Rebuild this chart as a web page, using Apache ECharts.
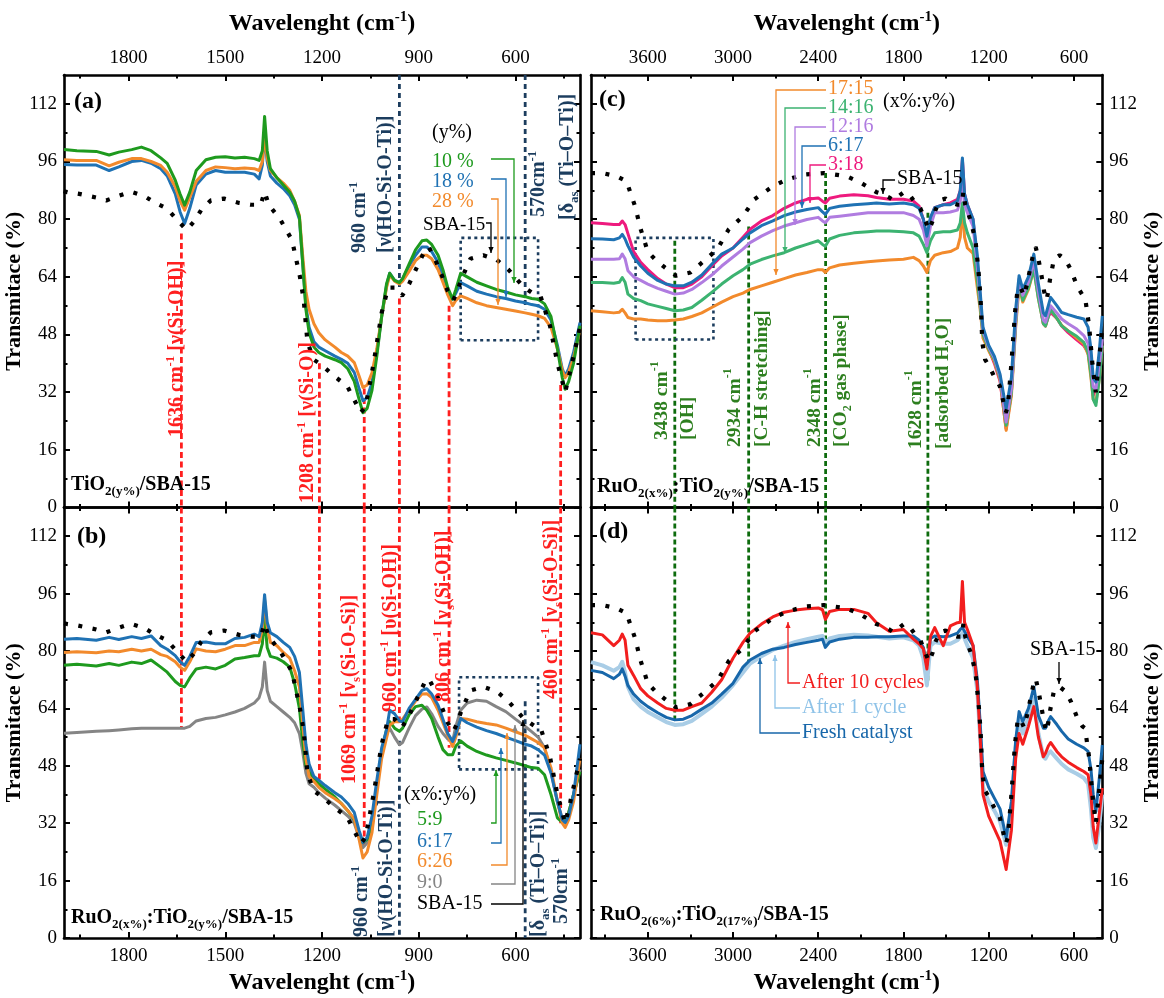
<!DOCTYPE html>
<html><head><meta charset="utf-8">
<script src="https://cdn.jsdelivr.net/npm/echarts@6/dist/echarts.min.js"></script>
<style>html,body{margin:0;padding:0;background:#fff;}#c{width:1164px;height:998px;}</style>
</head><body><div id="c"></div>
<script>
// ---------------- DATA ----------------
const wnLeft = [2000,1960,1900,1860,1830,1790,1760,1730,1700,1680,1655,1640,1626,1610,1590,1560,1530,1500,1470,1440,1410,1395,1385,1378,1370,1360,1340,1320,1300,1285,1270,1260,1250,1240,1225,1210,1190,1160,1140,1120,1100,1085,1073,1060,1045,1030,1015,1000,990,975,960,950,930,910,890,875,860,840,825,810,795,785,770,750,720,690,660,630,600,570,550,530,510,490,470,455,446,435,420,400];
const aGreen10 = [99.3,99.0,98.8,97.8,98.6,99.3,100.0,99.0,97.0,95.5,90.8,87.0,83.9,87.5,93.5,96.5,97.2,97.3,97.0,97.2,96.8,96.3,99.0,108.5,99.0,94.0,91.5,89.5,87.5,85.0,80.6,68.0,55.0,48.5,44.5,43.0,42.0,41.0,40.2,38.5,35.0,30.0,26.3,27.5,32.5,42.0,53.0,62.0,65.0,63.0,62.4,63.5,67.5,71.5,74.0,74.2,73.0,70.0,66.0,61.0,57.8,60.5,65.0,64.0,62.5,61.5,60.5,59.8,59.0,58.5,58.0,57.8,56.5,53.0,44.0,36.0,32.8,35.0,40.0,50.4];
const aBlue18 = [95.2,95.0,95.0,93.5,94.5,96.0,96.3,95.5,94.0,92.0,87.0,82.0,78.8,83.0,89.5,92.5,93.5,93.0,93.0,93.0,92.5,91.2,95.0,103.7,96.0,92.0,90.0,88.5,86.5,84.0,80.0,68.0,56.0,50.0,46.0,44.5,43.5,42.0,41.1,40.0,37.5,33.0,29.6,30.5,34.6,43.0,53.0,61.5,65.0,63.0,62.5,63.5,67.0,70.0,72.3,72.3,71.0,68.0,64.0,60.0,57.8,59.5,62.4,61.5,60.0,59.2,58.5,58.0,57.3,56.8,56.3,56.0,55.0,52.0,45.0,38.5,36.5,38.5,43.0,51.3];
const aOrange28 = [96.5,96.3,96.3,94.8,95.8,96.8,96.8,96.0,94.9,93.0,89.0,85.0,82.5,86.0,90.5,93.5,94.5,94.3,94.0,94.2,94.0,93.5,96.0,103.7,97.0,93.5,91.5,90.0,88.0,85.0,81.0,70.0,60.0,55.0,51.0,48.5,46.5,44.5,43.0,42.0,40.2,36.5,33.3,34.0,37.4,44.0,53.0,61.0,64.5,62.8,62.0,62.8,65.5,68.5,70.0,70.0,69.0,66.0,62.5,59.0,56.0,57.5,58.7,58.0,56.8,56.0,55.5,55.0,54.5,54.0,53.6,53.2,52.5,50.0,44.0,38.0,36.0,37.5,41.5,49.5];
const bGreen59 = [76.0,76.3,75.8,76.5,76.0,76.9,76.5,77.5,75.5,74.1,71.5,70.4,70.0,72.5,75.0,75.5,75.0,76.0,77.8,78.2,78.7,78.7,82.0,89.3,81.0,78.5,78.0,77.0,75.5,71.0,64.0,55.0,48.0,46.4,44.5,43.0,41.5,39.3,37.5,35.5,33.0,29.0,26.6,27.5,32.2,42.0,52.0,58.0,60.3,58.5,57.6,58.5,62.2,64.5,64.9,63.5,61.2,56.0,52.5,51.1,51.1,53.5,54.9,53.5,52.0,51.0,50.2,49.5,48.8,48.0,47.5,47.3,45.5,40.0,33.5,32.2,32.5,35.0,40.0,46.4];
const bBlue617 = [83.3,83.5,83.0,83.8,83.2,84.0,83.5,84.2,81.5,80.5,78.7,77.0,76.0,78.5,82.4,82.5,82.0,82.0,83.5,83.8,84.7,84.0,88.0,95.7,88.0,85.1,84.0,82.4,81.0,78.5,74.0,64.0,54.0,48.5,45.0,44.0,42.5,40.5,39.3,37.5,35.0,30.0,26.6,28.0,34.0,44.0,53.0,58.0,63.5,62.5,60.5,60.3,64.0,66.5,69.0,69.5,68.0,64.9,61.0,57.0,54.8,57.0,61.2,60.0,58.8,57.8,57.0,56.0,55.0,54.0,53.5,52.5,51.0,46.0,38.0,33.0,32.2,34.0,40.0,54.0];
const bOrange626 = [79.6,79.8,79.5,80.0,79.8,80.5,80.0,80.5,79.0,78.5,77.0,75.5,74.6,77.0,80.6,80.0,79.8,80.5,81.5,81.5,82.4,82.4,86.0,94.3,87.0,82.4,81.5,79.6,78.0,74.5,70.0,60.0,50.0,45.0,43.6,42.0,40.5,38.8,37.5,35.5,33.2,27.5,22.3,24.0,29.4,40.0,50.0,55.7,59.4,60.3,60.3,61.0,63.5,66.0,68.0,68.1,67.0,63.5,60.0,56.5,53.4,56.0,61.2,61.0,60.3,59.8,59.4,58.5,57.5,56.5,55.5,54.5,53.0,47.5,38.0,32.0,30.8,33.0,38.0,50.0];
const bGray90 = [57.1,57.3,57.6,57.8,58.0,58.3,58.5,58.5,58.5,58.5,58.5,58.5,58.5,59.0,60.5,61.2,61.5,62.2,63.0,64.0,65.5,67.0,70.0,76.9,69.0,66.0,64.5,63.0,61.5,60.0,57.0,52.0,46.0,43.0,42.0,40.5,39.0,37.0,35.5,34.0,32.0,28.0,25.2,26.5,30.4,42.0,52.0,57.0,58.5,56.0,53.9,54.5,58.5,62.0,63.8,64.4,62.5,59.0,57.0,55.5,54.8,59.0,63.5,65.5,66.3,66.0,64.5,63.1,61.0,59.0,57.5,56.0,53.0,46.4,38.0,33.2,33.0,35.0,40.0,47.0];

const wnRight = [4000,3920,3840,3800,3780,3760,3740,3700,3650,3600,3530,3470,3410,3350,3290,3220,3150,3080,3000,2930,2880,2800,2720,2640,2560,2480,2400,2370,2350,2320,2250,2150,2050,1990,1900,1800,1730,1690,1660,1635,1610,1580,1520,1470,1420,1400,1385,1370,1350,1310,1280,1260,1240,1200,1160,1120,1077,1040,1010,986,960,920,882,850,815,800,780,764,720,686,640,580,530,500,480,464,445,420,400];
const cPink318 = [79.0,78.8,78.5,78.5,79.5,78.5,76.0,71.0,68.0,66.0,63.5,62.0,61.0,61.0,62.0,64.0,67.0,69.8,72.0,75.0,77.2,79.5,81.0,83.0,84.5,85.5,85.9,85.0,84.5,85.8,86.4,86.8,86.5,86.0,85.5,85.5,85.0,83.6,80.0,74.4,80.0,83.2,84.0,84.5,85.5,88.0,96.5,87.0,84.0,79.9,68.0,58.0,48.5,44.0,40.0,35.0,21.8,32.0,52.0,62.4,58.7,62.0,68.0,60.0,51.0,50.4,53.0,54.1,52.5,50.4,48.5,46.5,44.9,43.0,38.0,31.1,33.0,40.0,44.0];
const cBlue617 = [74.6,74.5,74.3,74.8,75.8,74.5,72.6,69.5,67.0,65.0,63.0,62.0,61.5,61.5,62.5,64.5,67.5,70.3,72.0,74.5,76.2,78.2,79.5,81.0,82.0,82.7,83.2,82.0,81.3,83.0,83.6,84.0,84.3,84.5,84.2,84.5,84.0,83.0,80.0,75.3,80.5,83.2,84.0,84.0,85.0,88.0,97.0,87.0,84.0,80.0,70.0,60.0,50.0,45.0,42.0,37.0,27.4,36.0,55.0,64.3,60.6,64.0,70.3,62.0,54.0,53.2,56.0,58.3,56.0,54.1,53.5,52.8,52.3,50.0,44.0,36.0,34.8,44.0,53.2];
const cPurple1216 = [68.9,68.9,68.9,69.0,70.3,69.0,65.7,64.0,63.0,62.0,60.8,60.0,59.2,59.5,60.5,62.4,64.5,67.0,69.5,71.7,73.5,75.3,76.8,78.1,79.0,79.9,80.5,79.5,79.0,80.5,80.8,81.3,81.8,81.8,81.8,81.8,81.0,80.0,77.0,72.6,78.0,81.8,81.8,82.0,82.5,85.0,91.0,84.0,81.8,78.0,67.0,58.0,49.0,44.5,41.5,36.5,23.7,33.0,52.0,63.4,58.9,62.5,68.4,60.0,52.0,51.4,54.0,56.0,54.0,52.3,51.0,49.5,47.7,45.5,40.0,33.5,32.9,40.0,46.7];
const cGreen1416 = [62.4,62.4,62.2,62.5,63.8,62.5,59.2,58.0,57.4,56.5,55.8,55.2,54.6,54.8,55.5,57.5,59.7,62.0,64.3,66.0,67.5,68.8,69.8,70.7,72.0,73.0,74.0,73.0,72.5,74.5,75.5,76.2,76.5,76.7,76.7,76.5,76.2,75.3,73.0,70.7,74.0,76.2,76.5,76.5,77.0,79.0,84.5,79.0,76.2,72.0,63.0,56.0,48.0,44.0,41.0,36.0,22.8,32.0,51.0,62.5,57.5,61.0,66.1,58.0,51.0,50.4,53.0,55.0,52.5,50.4,49.0,47.5,45.8,43.0,37.0,30.0,28.3,36.0,44.9];
const cOrange1715 = [54.6,54.3,54.0,54.2,55.0,54.0,52.7,52.3,52.3,52.0,51.8,51.8,52.0,52.3,53.0,54.0,55.5,57.0,58.5,59.5,60.5,61.5,62.5,63.5,64.5,65.2,66.0,66.0,65.2,66.5,67.3,67.8,68.2,68.4,68.7,68.9,69.4,68.5,67.0,65.2,68.5,70.0,70.7,71.0,72.0,75.0,83.6,75.0,72.0,70.5,61.0,55.0,47.0,43.5,40.5,35.5,21.4,31.0,50.0,61.5,57.0,60.5,66.1,58.0,51.0,50.4,53.5,55.0,52.5,50.5,49.0,47.0,45.4,42.5,36.0,30.0,29.2,36.0,44.9];
const dRed10 = [85.1,84.5,81.5,83.0,84.7,83.0,76.0,73.2,69.5,67.5,65.5,64.0,63.5,63.5,64.5,65.5,68.5,72.0,78.0,82.4,85.0,87.5,89.5,90.8,91.4,91.8,92.0,91.5,88.8,91.0,91.6,91.6,90.5,87.9,85.5,86.0,83.3,82.0,80.6,75.0,84.0,86.5,81.5,87.0,87.9,88.0,99.4,88.0,86.0,81.5,70.0,56.0,40.0,34.0,30.5,27.0,19.1,30.0,50.0,57.0,54.0,59.0,64.5,56.0,50.5,51.5,53.5,54.5,52.0,50.5,49.0,47.5,46.4,45.5,40.0,31.0,26.5,35.0,41.8];
const dLight1 = [76.9,76.0,74.5,75.5,77.0,74.0,70.0,66.5,64.5,63.0,61.5,60.2,59.4,59.6,60.5,62.5,64.5,67.0,70.5,74.0,76.5,78.5,80.3,81.5,82.5,83.3,84.0,84.2,82.0,83.5,84.2,84.5,84.3,84.0,83.5,83.8,83.0,81.5,78.0,70.4,81.5,82.5,82.0,82.0,83.0,84.0,85.0,83.5,81.5,78.0,69.0,56.0,42.0,38.0,35.5,32.5,26.0,35.0,53.0,60.5,57.0,61.5,66.8,57.0,50.5,50.0,51.5,52.0,50.0,48.5,47.0,45.8,44.6,43.0,36.0,28.0,25.1,32.0,40.0];
const dFresh = [74.6,74.0,72.3,73.5,75.0,73.0,70.4,68.0,66.0,64.5,62.8,61.5,60.8,61.0,62.0,63.8,65.5,68.0,71.0,75.5,77.5,79.3,80.5,81.0,81.8,82.4,83.0,83.3,81.0,82.5,83.3,83.8,83.8,84.0,84.0,84.2,84.2,83.0,81.0,76.0,83.5,84.2,84.0,84.2,85.0,86.0,86.5,85.5,84.0,81.5,72.0,60.0,46.4,42.0,39.0,36.0,27.9,38.0,55.0,63.1,60.3,64.0,70.0,62.0,58.5,58.5,60.5,61.7,59.5,57.6,55.5,54.0,53.0,52.0,47.0,40.0,35.3,45.0,53.8];

const sbaWn = [4000,3920,3820,3750,3690,3650,3600,3550,3480,3400,3300,3190,3110,3030,2930,2850,2720,2620,2490,2360,2200,2100,1990,1957,1900,1869,1830,1793,1751,1716,1681,1651,1620,1595,1575,1545,1504,1457,1420,1390,1378,1365,1328,1293,1269,1257,1245,1225,1198,1163,1122,1095,1080,1065,1040,1015,995,975,952,930,904,880,869,850,828,810,793,780,769,740,700,658,622,575,540,522,493,470,446,430,400];
const sbaT = [92.8,92.8,91.9,90.5,83.6,77.2,71.0,68.9,66.6,64.3,65.2,68.9,71.7,77.2,80.8,85.5,89.1,91.0,92.4,92.8,91.9,90.1,87.5,87.1,86.0,85.2,86.5,87.6,86.4,84.5,83.0,80.0,77.0,79.5,82.5,85.2,85.7,84.5,84.0,84.0,87.6,84.0,79.7,74.2,64.3,57.8,45.8,41.0,39.3,36.5,33.7,29.0,26.3,28.0,40.0,54.0,61.0,61.0,58.7,62.0,67.0,71.5,72.3,69.0,64.3,60.0,57.5,60.0,63.1,69.0,70.0,68.7,66.0,61.2,59.0,58.5,50.4,40.0,32.0,38.0,50.0];

// reference (band) lines
const redWn = [1636, 1208, 1069, 960, 806, 460];
const redStartA = [76, 40, 33, 58, 56, 34];
const redEndB = [58.5, 43, 25, 61, 53, 32];
const navyWn = [960, 570];
const navyStartA = [61, 55];
const navyStartB = [55, 66];
const greenWn = [3410, 2890, 2348, 1628];
const greenStartC = [74, 78, 92.8, 81.8];
const greenEndD = [60.8, 77, 83.3, 71.8];
// dotted zoom boxes
const boxAWn = [770, 530], boxAT = [46.4, 74.8];
const boxBWn = [775, 530], boxBT = [47, 72.7];
const boxCWn = [3686, 3138], boxCT = [46.6, 74.8];

// ticks
const xTicksLeft = [1800, 1500, 1200, 900, 600];
const xMinorLeft = [1950, 1650, 1350, 1050, 750, 450];
const xTicksRight = [3600, 3000, 2400, 1800, 1200, 600];
const xMinorRight = [3900, 3300, 2700, 2100, 1500, 900];
const yTicks = [0, 16, 32, 48, 64, 80, 96, 112];
const yMinor = [8, 24, 40, 56, 72, 88, 104];

// ---------------- STYLE ----------------
const FONT = '"Liberation Serif","Times New Roman",serif';
const COL = {
  red:'#ff1f1f', navy:'#1c3d5e', dgreen:'#0d6b0d', tgreen:'#2d7f1f',
  green:'#1e9a1e', blue:'#1f72b4', orange:'#f28a2c', gray:'#858585',
  cgreen:'#3cb371', purple:'#b07ce0', pink:'#ee1a7e',
  dred:'#f21e1e', lblue:'#a9cde6', dblue:'#1767aa'
};
const GRIDS = [
  {left:64, top:75, width:516, height:432.5},
  {left:64, top:507.5, width:516, height:432},
  {left:591, top:75, width:516, height:432.5},
  {left:591, top:507.5, width:516, height:432}
];

function tickAxis(base, pos, vals, len, line, labels, extra) {
  return Object.assign({}, base, {
    position: pos,
    axisLine: {show: line, onZero: false, lineStyle: {color:'#000', width:2.6}},
    axisTick: {show: true, inside: true, length: len, customValues: vals, lineStyle: {color:'#000', width:2}},
    axisLabel: labels ? Object.assign({show:true, customValues: vals, fontFamily: FONT, fontSize: 19, color:'#000',
      formatter: (v) => String(v)}, labels) : {show:false},
    splitLine: {show:false}
  }, extra || {});
}
const xName = (pos) => ({
  name: 'Wavelenght (cm{sup|-1})', nameLocation: 'middle', nameGap: pos === 'top' ? 37 : 31,
  nameTextStyle: {fontFamily: FONT, fontSize: 24, fontWeight: 'bold', color: '#000', lineHeight: 28,
    rich: {sup: {fontFamily: FONT, fontSize: 15, fontWeight: 'bold', color: '#000', lineHeight: 15, verticalAlign: 'top'}}}
});
function makeX(g, min, max, majors, minors, pos) {
  const opp = pos === 'top' ? 'bottom' : 'top';
  const base = {type:'value', gridIndex:g, min, max, inverse:true};
  return [
    tickAxis(base, pos, majors, 6, true, {margin: pos === 'top' ? 7 : 9}, xName(pos)),
    tickAxis(base, pos, minors, 3.5, false, null),
    tickAxis(base, opp, majors, 6, true, null),
    tickAxis(base, opp, minors, 3.5, false, null)
  ];
}
function makeY(g, pos) {
  const opp = pos === 'left' ? 'right' : 'left';
  const base = {type:'value', gridIndex:g, min:0, max:120};
  const nm = {name:'Transmitace (%)', nameLocation:'middle', nameRotate: 90, nameGap: pos === 'left' ? 32 : 35,
    nameTextStyle: {fontFamily: FONT, fontSize: 22, fontWeight: 'bold', color: '#000'}};
  return [
    tickAxis(base, pos, yTicks, 6, true, {margin: 7}, nm),
    tickAxis(base, pos, yMinor, 3.5, false, null),
    tickAxis(base, opp, yTicks, 6, true, null),
    tickAxis(base, opp, yMinor, 3.5, false, null)
  ];
}
const xAxes = [].concat(
  makeX(0, 400, 2000, xTicksLeft, xMinorLeft, 'top'),
  makeX(1, 400, 2000, xTicksLeft, xMinorLeft, 'bottom'),
  makeX(2, 400, 4000, xTicksRight, xMinorRight, 'top'),
  makeX(3, 400, 4000, xTicksRight, xMinorRight, 'bottom')
);
const yAxes = [].concat(makeY(0,'left'), makeY(1,'left'), makeY(2,'right'), makeY(3,'right'));

// ---------------- SERIES ----------------
const S = [];
function curve(g, wn, vals, color, width, z) {
  S.push({type:'line', xAxisIndex: 4*g, yAxisIndex: 4*g, data: wn.map((w, i) => [w, vals[i]]),
    symbol:'none', showSymbol:false, clip:true, silent:true, z: z || 3,
    lineStyle: {color, width: width || 3, join:'round'}, itemStyle:{color}});
}
function dotted(g) {
  S.push({type:'line', xAxisIndex: 4*g, yAxisIndex: 4*g, data: sbaWn.map((w, i) => [w, sbaT[i]]),
    symbol:'none', clip:true, silent:true, z: 4,
    lineStyle: {color:'#000', width: 4.2, type: [4, 10.5], cap:'butt'}});
}
function vline(g, wn, t0, t1, color, dash) {
  S.push({type:'line', xAxisIndex: 4*g, yAxisIndex: 4*g, data: [[wn, t0], [wn, t1]],
    symbol:'none', clip:true, silent:true, z: 2,
    lineStyle: {color, width: 2.8, type: dash, cap:'butt'}});
}
function box(g, wn, t) {
  S.push({type:'line', xAxisIndex: 4*g, yAxisIndex: 4*g,
    data: [[wn[0], t[0]], [wn[1], t[0]], [wn[1], t[1]], [wn[0], t[1]], [wn[0], t[0]]],
    symbol:'none', clip:true, silent:true, z: 2,
    lineStyle: {color: COL.navy, width: 2.6, type: [3, 3.5], cap:'butt'}});
}

redWn.forEach((w, i) => { vline(0, w, redStartA[i], 0, COL.red, [6, 3.5]); vline(1, w, 120, redEndB[i], COL.red, [6, 3.5]); });
navyWn.forEach((w, i) => { vline(0, w, 120, navyStartA[i], COL.navy, [5, 4]); vline(1, w, navyStartB[i], 0, COL.navy, [5, 4]); });
greenWn.forEach((w, i) => { vline(2, w, greenStartC[i], 0, COL.dgreen, [5, 3]); vline(3, w, 120, greenEndD[i], COL.dgreen, [5, 3]); });
box(0, boxAWn, boxAT); box(1, boxBWn, boxBT); box(2, boxCWn, boxCT);

// panel a
curve(0, wnLeft, aBlue18, COL.blue);
curve(0, wnLeft, aOrange28, COL.orange);
curve(0, wnLeft, aGreen10, COL.green);
dotted(0);
// panel b
curve(1, wnLeft, bGray90, COL.gray);
curve(1, wnLeft, bGreen59, COL.green);
curve(1, wnLeft, bOrange626, COL.orange);
curve(1, wnLeft, bBlue617, COL.blue);
dotted(1);
// panel c
curve(2, wnRight, cPink318, COL.pink);
curve(2, wnRight, cOrange1715, COL.orange);
curve(2, wnRight, cGreen1416, COL.cgreen);
curve(2, wnRight, cPurple1216, COL.purple);
curve(2, wnRight, cBlue617, COL.blue);
dotted(2);
// panel d
curve(3, wnRight, dLight1, COL.lblue, 4);
curve(3, wnRight, dFresh, COL.dblue);
curve(3, wnRight, dRed10, COL.dred);
dotted(3);

// ---------------- ANNOTATIONS ----------------
const G = [];
function rich(size, bold, color) {
  const s = Math.round(size * 0.64), fw = bold ? 'bold' : 'normal';
  return {
    sub: {fontFamily: FONT, fontSize: s, fontWeight: fw, fill: color, color, lineHeight: s, verticalAlign: 'bottom'},
    sup: {fontFamily: FONT, fontSize: s, fontWeight: fw, fill: color, color, lineHeight: s, verticalAlign: 'top'}
  };
}
function T(x, y, text, o) {
  o = o || {};
  const size = o.size || 18, bold = !!o.bold, color = o.color || '#000';
  G.push({type:'text', x, y, rotation: o.rot ? Math.PI / 2 : 0, z: 100, silent: true,
    style: {text, fontFamily: FONT, fontSize: size, fontWeight: bold ? 'bold' : 'normal', fill: color,
      align: o.align || 'left', verticalAlign: 'middle', lineHeight: size + 6, rich: rich(size, bold, color)}});
}
function L(pts, color, noArrow) {
  G.push({type:'polyline', z: 90, silent: true, shape: {points: pts}, style: {stroke: color, lineWidth: 1.3, fill: null}});
  if (noArrow) return;
  const n = pts.length, [x1, y1] = pts[n - 2], [x2, y2] = pts[n - 1];
  const dx = x2 - x1, dy = y2 - y1, len = Math.hypot(dx, dy), ux = dx / len, uy = dy / len;
  const al = 6, aw = 2.6, bx = x2 - ux * al, by = y2 - uy * al;
  G.push({type:'polygon', z: 90, silent: true, shape: {points: [[x2, y2], [bx - uy * aw, by + ux * aw], [bx + uy * aw, by - ux * aw]]}, style: {fill: color}});
}
const RB = {bold: true, rot: true, color: COL.red, size: 20};
const NB = {bold: true, rot: true, color: COL.navy, size: 20};
const GB = {bold: true, rot: true, color: COL.tgreen, size: 19.5};

// panel a
T(74, 102, '(a)', {bold: true, size: 24});
T(71, 485, 'TiO{sub|2(y%)}/SBA-15', {bold: true, size: 20});
T(177, 437, '1636 cm{sup|-1} [ν(Si-OH)]', RB);
T(308, 503, '1208 cm{sup|-1} [ν(Si-O)]', RB);
T(360, 253, '960 cm{sup|-1}', NB);
T(386, 253, '[ν(HO-Si-O-Ti)]', NB);
T(539, 217, '570cm{sup|-1}', NB);
T(568, 220, '[δ{sub|as} (Ti–O–Ti)]', NB);
T(432, 133, '(y%)', {size: 20});
T(432, 162, '10 %', {size: 20, color: COL.green});
T(432, 182, '18 %', {size: 20, color: COL.blue});
T(432, 202, '28 %', {size: 20, color: COL.orange});
T(423, 225, 'SBA-15', {size: 19});
L([[491, 159], [514, 159], [514, 283]], COL.green);
L([[491, 179], [506, 179], [506, 297]], COL.blue);
L([[491, 199], [498, 199], [498, 305]], COL.orange);
L([[486, 223], [491, 223], [491, 253]], '#000');

// panel b
T(77, 537, '(b)', {bold: true, size: 24});
T(71, 918, 'RuO{sub|2(x%)}:TiO{sub|2(y%)}/SBA-15', {bold: true, size: 20});
T(350, 784, '1069 cm{sup|-1} [ν{sub|s}(Si-O-Si)]', RB);
T(391, 712, '960 cm{sup|-1} [υ(Si-OH)]', RB);
T(444, 702, '806 cm{sup|-1} [ν{sub|s}(Si-OH)]', RB);
T(552, 699, '460 cm{sup|-1} [ν{sub|s}(Si-O-Si)]', RB);
T(362, 937, '960 cm{sup|-1}', NB);
T(387, 937, '[ν(HO-Si-O-Ti)]', NB);
T(539, 937, '[δ{sub|as} (Ti–O–Ti)]', NB);
T(562, 924, '570cm{sup|-1}', NB);
T(404, 795, '(x%:y%)', {size: 20});
T(417, 820, '5:9', {size: 20, color: COL.green});
T(417, 842, '6:17', {size: 20, color: COL.blue});
T(417, 862, '6:26', {size: 20, color: COL.orange});
T(417, 883, '9:0', {size: 20, color: COL.gray});
T(417, 904, 'SBA-15', {size: 20});
L([[491, 823], [496, 823], [496, 770]], COL.green);
L([[491, 843], [501, 843], [501, 748]], COL.blue);
L([[491, 865], [507, 865], [507, 733]], COL.orange);
L([[491, 884], [515, 884], [515, 725]], COL.gray);
L([[491, 904], [523, 904], [523, 720]], '#000');

// panel c
T(599, 100, '(c)', {bold: true, size: 24});
T(597, 487, 'RuO{sub|2(x%)}:TiO{sub|2(y%)}/SBA-15', {bold: true, size: 20});
T(828, 89, '17:15', {size: 20, color: COL.orange});
T(828, 108, '14:16', {size: 20, color: COL.cgreen});
T(828, 127, '12:16', {size: 20, color: COL.purple});
T(828, 146, '6:17', {size: 20, color: COL.blue});
T(828, 165, '3:18', {size: 20, color: COL.pink});
T(883, 102, '(x%:y%)', {size: 20});
T(897, 179, 'SBA-15', {size: 20});
L([[826, 90], [776, 90], [776, 275]], COL.orange);
L([[826, 108], [785, 108], [785, 253]], COL.cgreen);
L([[826, 127], [795, 127], [795, 225]], COL.purple);
L([[826, 146], [802, 146], [802, 208]], COL.blue);
L([[826, 165], [810, 165], [810, 203]], COL.pink);
L([[895, 180], [883, 180], [883, 194]], '#000');
T(662, 440, '3438 cm{sup|-1}', GB);
T(688, 440, '[OH]', GB);
T(735, 447, '2934 cm{sup|-1}', GB);
T(762, 447, '[C-H stretching]', GB);
T(815, 447, '2348 cm{sup|-1}', GB);
T(841, 447, '[CO{sub|2} gas phase]', GB);
T(916, 449, '1628 cm{sup|-1}', GB);
T(943, 449, '[adsorbed H{sub|2}O]', GB);

// panel d
T(599, 532, '(d)', {bold: true, size: 24});
T(600, 915, 'RuO{sub|2(6%)}:TiO{sub|2(17%)}/SBA-15', {bold: true, size: 20});
T(802, 683, 'After 10 cycles', {size: 20, color: COL.dred});
T(802, 708, 'After 1 cycle', {size: 20, color: '#8fc3e8'});
T(802, 733, 'Fresh catalyst', {size: 20, color: COL.dblue});
T(1030, 650, 'SBA-15', {size: 20});
L([[800, 683], [788, 683], [788, 622]], COL.dred);
L([[800, 708], [775, 708], [775, 655]], '#8fc3e8');
L([[800, 733], [760, 733], [760, 658]], COL.dblue);
L([[1059, 662], [1059, 684]], '#000');

// ---------------- CHART ----------------
const chart = echarts.init(document.getElementById('c'), null, {renderer: 'canvas'});
chart.setOption({
  animation: false,
  backgroundColor: '#fff',
  grid: GRIDS,
  xAxis: xAxes,
  yAxis: yAxes,
  series: S,
  graphic: {elements: G}
});
</script>
</body></html>
